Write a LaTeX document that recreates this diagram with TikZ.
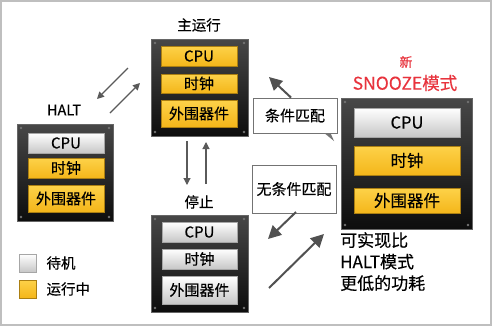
\documentclass[tikz,border=0pt]{standalone}
\usepackage{fontspec}
\setmainfont{Noto Sans CJK SC}[FakeBold=0.35]
\usetikzlibrary{arrows.meta}
\definecolor{yelA}{HTML}{FDD249}
\definecolor{yelB}{HTML}{F4B61A}
\definecolor{arrgray}{HTML}{5A5A5A}
\definecolor{snred}{HTML}{E8333D}
\tikzset{
  panel/.style={draw=black!60, line width=0.8pt, top color=black!72, bottom color=black!95},
  bar/.style={minimum width=#1, inner sep=0pt, font=\fontsize{15}{15}\selectfont},
  yel/.style={bar=#1, top color=yelA, bottom color=yelB, draw=yelB!70!black, line width=0.3pt},
  gry/.style={bar=#1, top color=white, bottom color=black!22, draw=black!35, line width=0.3pt},
  ttl/.style={font=\fontsize{14.5}{14.5}\selectfont},
  callout/.style={draw=black!55, fill=white, line width=0.9pt, font=\fontsize{15}{15}\selectfont},
  thinarr/.style={draw=arrgray, line width=1.1pt, -{Triangle[length=7pt,width=7pt]}},
  bigarr/.style={draw=arrgray!90!black, line width=2pt, -{Triangle[length=13pt,width=13pt]}},
  screw/.style={fill=black!55, draw=none}
}
\begin{document}
\begin{tikzpicture}[x=1pt,y=-1pt]
\useasboundingbox (0,0) rectangle (493,327);
\fill[white] (0,0) rectangle (493,327);
\draw[black!25, line width=1.5pt] (1,1) rectangle (491,325);

% ---------- main run panel ----------
\node[ttl] (tmain) at (199,25) {主运行};
\path[panel] (151,39) rectangle (248,136);
\node[yel=76pt, minimum height=20pt] (m1) at (199,56) {CPU};
\node[yel=76pt, minimum height=19pt] (m2) at (199,83.5) {时钟};
\node[yel=76pt, minimum height=27pt] (m3) at (199,113.5) {外围器件};
\foreach \p in {(155,43),(244,43),(155,132),(244,132)} \fill[screw] \p circle (1.3);
\node[inner sep=0pt, minimum width=97pt, minimum height=97pt] (main) at (199.5,87.5) {};

% ---------- HALT panel ----------
\node[ttl] (thalt) at (64,110) {HALT};
\path[panel] (17,124) rectangle (113,221);
\node[gry=76pt, minimum height=20pt] (h1) at (66,143) {CPU};
\node[yel=76pt, minimum height=20pt] (h2) at (66,168) {时钟};
\node[yel=76pt, minimum height=27pt] (h3) at (66,198.5) {外围器件};
\foreach \p in {(21,128),(109,128),(21,217),(109,217)} \fill[screw] \p circle (1.3);
\node[inner sep=0pt, minimum width=96pt, minimum height=97pt] (halt) at (65,172.5) {};

% ---------- stop panel ----------
\node[ttl] (tstop) at (199,202) {停止};
\path[panel] (151,215) rectangle (248,312);
\node[gry=75pt, minimum height=20pt] (s1) at (199.5,232) {CPU};
\node[gry=75pt, minimum height=20pt] (s2) at (199.5,259) {时钟};
\node[gry=75pt, minimum height=28pt] (s3) at (199.5,290) {外围器件};
\foreach \p in {(155,219),(244,219),(155,308),(244,308)} \fill[screw] \p circle (1.3);
\node[inner sep=0pt, minimum width=97pt, minimum height=97pt] (stop) at (199.5,263.5) {};

% ---------- SNOOZE panel ----------
\node[font=\fontsize{13}{13}\selectfont, text=snred] (tnew) at (406,62) {新};
\node[font=\fontsize{17.5}{17.5}\selectfont, text=snred] (tsnooze) at (405,83) {SNOOZE模式};
\path[panel] (341,98) rectangle (472,229);
\node[gry=106pt, minimum height=29pt, font=\fontsize{16.5}{16.5}\selectfont] (z1) at (407,122.5) {CPU};
\node[yel=106pt, minimum height=29pt, font=\fontsize{16.5}{16.5}\selectfont] (z2) at (407,160.5) {时钟};
\node[yel=106pt, minimum height=25pt, font=\fontsize{16.5}{16.5}\selectfont] (z3) at (407,200.5) {外围器件};
\foreach \p in {(345,102),(468,102),(345,225),(468,225)} \fill[screw] \p circle (1.3);

% ---------- legend ----------
\node[gry=17pt, minimum height=18pt] (lg) at (27.5,263) {};
\node[yel=17pt, minimum height=18pt] (ly) at (27.5,289) {};
\node[ttl, anchor=west] (tlg) at (43,263) {待机};
\node[ttl, anchor=west] (tly) at (43,289) {运行中};

% ---------- callouts ----------
\fill[black!55] (323,132) -- (334,141) -- (330,132) -- cycle;
\node[callout, minimum width=84pt, minimum height=35pt, inner sep=0pt] (c1) at (295,115.5) {条件匹配};
\node[callout, minimum width=84pt, minimum height=48pt, inner sep=0pt] (c2) at (294,189) {无条件匹配};

% ---------- arrows ----------
\coordinate (a1s) at (128,68);  \coordinate (a1e) at (97,99);
\coordinate (a2s) at (110,113); \coordinate (a2e) at (140,83);
\draw[thinarr] (a1s) -- (a1e);
\draw[thinarr] (a2s) -- (a2e);
\coordinate (v1s) at (187,141); \coordinate (v1e) at (187,185);
\coordinate (v2s) at (206,184); \coordinate (v2e) at (206,142);
\draw[thinarr] (v1s) -- (v1e);
\draw[thinarr] (v2s) -- (v2e);

\coordinate (b1e) at (269,77);
\draw[bigarr] (c1.north) ++(-4,0) coordinate (b1s) -- (b1e);
\coordinate (b2s) at (296,212); \coordinate (b2e) at (268,239);
\draw[bigarr] (b2s) -- (b2e);
\coordinate (b3s) at (269,288); \coordinate (b3e) at (324,234);
\draw[bigarr] (b3s) -- (b3e);

% ---------- note ----------
\node[anchor=north west, inner sep=0pt, align=left, font=\fontsize{17}{21.5}\selectfont] (note) at (340,232) {可实现比\\HALT模式\\更低的功耗};
\end{tikzpicture}
\end{document}
